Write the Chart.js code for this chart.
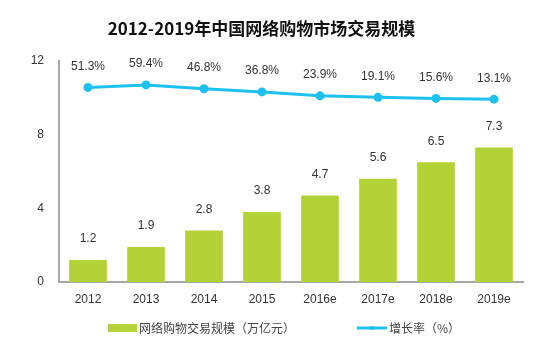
<!DOCTYPE html>
<html>
<head>
<meta charset="utf-8">
<script src="https://cdn.jsdelivr.net/npm/chart.js@4/dist/chart.umd.min.js"></script>
<style>
html,body{margin:0;padding:0;background:#fff;}
#wrap{width:550px;height:354px;}
</style>
</head>
<body>
<div id="wrap"><canvas id="c" width="550" height="354"></canvas></div>
<script>
const categories = ['2012','2013','2014','2015','2016e','2017e','2018e','2019e'];
const scaleValues = [1.2, 1.9, 2.8, 3.8, 4.7, 5.6, 6.5, 7.3];
const growthRates = [51.3, 59.4, 46.8, 36.8, 23.9, 19.1, 15.6, 13.1];
const yTicks = [0, 4, 8, 12];
const titleText = '2012-2019年中国网络购物市场交易规模';
const barLabel = '网络购物交易规模（万亿元）';
const lineLabel = '增长率（%）';

const BAR_COLOR = '#B3D236';
const LINE_COLOR = '#1EC0EE';
const TEXT_FONT = '"Liberation Sans", Arial, "Noto Sans CJK SC", sans-serif';

const valueLabels = {
  id: 'valueLabels',
  afterDatasetsDraw(chart) {
    const ctx = chart.ctx;
    ctx.save();
    ctx.font = '12px ' + TEXT_FONT;
    ctx.fillStyle = '#333';
    ctx.textAlign = 'center';
    ctx.textBaseline = 'middle';
    chart.data.datasets.forEach((ds, di) => {
      const meta = chart.getDatasetMeta(di);
      meta.data.forEach((el, i) => {
        const v = ds.data[i];
        const txt = ds.type === 'line' ? v.toFixed(1) + '%' : v.toFixed(1);
        ctx.fillText(txt, el.x, el.y - 21);
      });
    });
    ctx.restore();
  }
};

const customLegend = {
  id: 'customLegend',
  afterDraw(chart) {
    const ctx = chart.ctx;
    const y = 328;
    ctx.save();
    ctx.font = '12px "Noto Sans CJK SC", sans-serif';
    ctx.textBaseline = 'middle';
    ctx.textAlign = 'left';
    ctx.fillStyle = chart.data.datasets[1].backgroundColor;
    ctx.fillRect(108, y - 4, 29, 8);
    ctx.fillStyle = '#444';
    ctx.fillText(chart.data.datasets[1].label, 139, y);
    ctx.strokeStyle = chart.data.datasets[0].borderColor;
    ctx.lineWidth = 3;
    ctx.beginPath();
    ctx.moveTo(357, y);
    ctx.lineTo(387, y);
    ctx.stroke();
    ctx.fillStyle = chart.data.datasets[0].borderColor;
    ctx.beginPath();
    ctx.arc(372, y, 2, 0, Math.PI * 2);
    ctx.fill();
    ctx.fillStyle = '#444';
    ctx.fillText(chart.data.datasets[0].label, 389, y);
    ctx.restore();
  }
};

new Chart(document.getElementById('c'), {
  data: {
    labels: categories,
    datasets: [
      {
        type: 'line',
        label: lineLabel,
        data: growthRates,
        yAxisID: 'y1',
        borderColor: LINE_COLOR,
        backgroundColor: LINE_COLOR,
        borderWidth: 3,
        pointRadius: 4.5,
        pointBackgroundColor: LINE_COLOR,
        pointBorderWidth: 0,
        tension: 0,
        order: 0
      },
      {
        type: 'bar',
        label: barLabel,
        data: scaleValues,
        yAxisID: 'y',
        backgroundColor: BAR_COLOR,
        barPercentage: 0.65,
        categoryPercentage: 1.0,
        order: 1
      }
    ]
  },
  options: {
    responsive: false,
    animation: false,
    devicePixelRatio: 1,
    layout: { padding: { left: 0, right: 27, top: 0, bottom: 0 } },
    plugins: {
      legend: { display: false },
      tooltip: { enabled: false },
      title: {
        display: true,
        text: titleText,
        color: '#111',
        font: { family: '"Noto Sans CJK SC", sans-serif', size: 17, weight: 'bold', lineHeight: 1.2 },
        padding: { top: 18, bottom: 22.6 }
      }
    },
    scales: {
      x: {
        grid: { display: false, drawTicks: false },
        border: { display: true, color: '#A6A6A6', width: 2 },
        ticks: { color: '#333', font: { family: TEXT_FONT, size: 12 }, padding: 10 },
        afterFit(s) { s.height = 72; }
      },
      y: {
        min: 0, max: 12,
        afterBuildTicks(s) { s.ticks = yTicks.map(v => ({ value: v })); },
        grid: { display: false, drawTicks: false },
        border: { display: true, color: '#A6A6A6', width: 2 },
        ticks: { color: '#333', font: { family: TEXT_FONT, size: 12 }, padding: 15 },
        afterFit(s) { s.width = 59; }
      },
      y1: {
        display: false,
        position: 'right',
        min: -580, max: 137
      }
    }
  },
  plugins: [valueLabels, customLegend]
});
</script>
</body>
</html>
